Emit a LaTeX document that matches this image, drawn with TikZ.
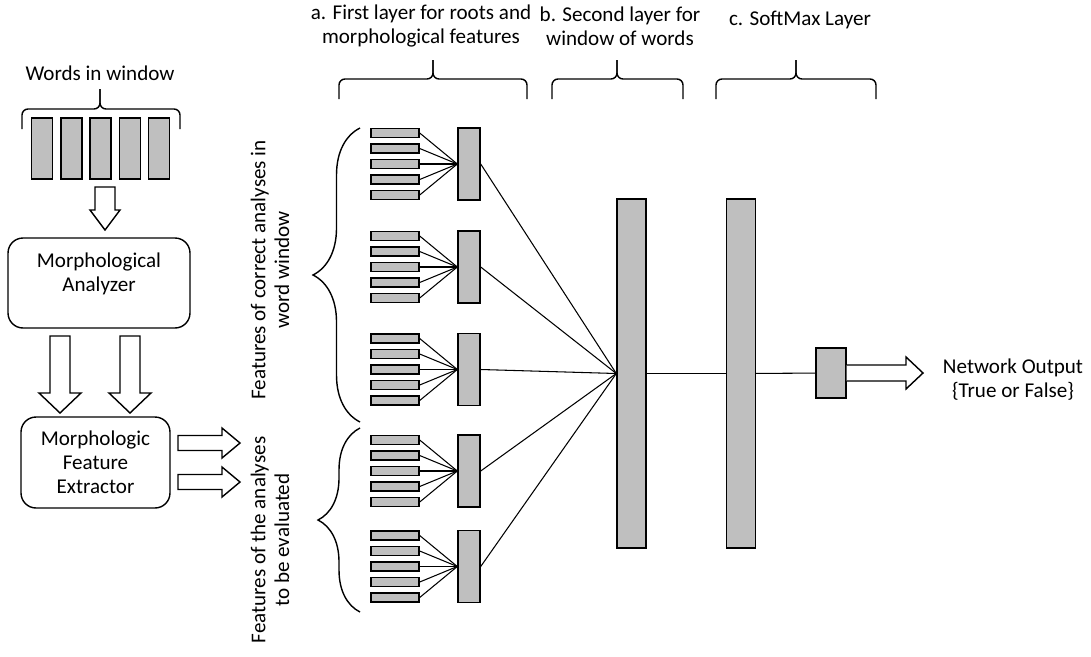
\documentclass[tikz,border=0pt]{standalone}
\usepackage{fontspec}
\setmainfont{Carlito}
\usetikzlibrary{positioning,decorations.pathreplacing}
\tikzset{>=latex}

\begin{document}
\begin{tikzpicture}[x=0.02cm, y=-0.02cm, font=\fontsize{12}{13.6}\selectfont,
		unit/.style={draw, fill=black!25, line width=0.8pt, inner sep=0pt},
		bar/.style={unit, minimum width=0.96cm, minimum height=0.18cm},
		neuron/.style={unit, minimum width=0.44cm, minimum height=1.44cm},
		layer/.style={unit, minimum width=0.58cm, minimum height=6.98cm},
		word/.style={unit, minimum width=0.42cm, minimum height=1.22cm},
		proc/.style={draw, line width=0.8pt, rounded corners=0.3cm, align=center},
		fat/.style={draw, line width=0.8pt, fill=white, line join=miter},
		curly/.style={draw, line width=0.8pt, rounded corners=0.12cm},
		vbrace/.style={draw, line width=0.8pt, decorate, decoration={brace, amplitude=#1}},
		wire/.style={line width=0.6pt}]
		\useasboundingbox (0,0) rectangle (1091,656);
		
		% input side
		\node (wordstitle) at (100,73) {Words in window};
		\foreach \i in {0,...,4}
			\node[word] (w\i) at (42+29.3*\i,148.5) {};
		\draw[curly] (22,129) |- (100,109) -- (100,89);
		\draw[curly] (100,89) -- (100,109) -| (180,129);
		\draw[fat] (95,187) -- (115,187) -- (115,210) -- (120,210) -- (105,230) -- (90,210) -- (95,210) -- cycle;
		
		\node[proc, minimum width=3.64cm, minimum height=1.8cm] (analyzer) at (99,283) {};
		\node[align=center] at (99,274) {Morphological\\Analyzer};
		\draw[fat] (50,336) -- (70,336) -- (70,393) -- (81,393) -- (60,413) -- (39,393) -- (50,393) -- cycle;
		\draw[fat] (120,336) -- (140,336) -- (140,393) -- (151,393) -- (130,413) -- (109,393) -- (120,393) -- cycle;
		
		\node[proc, minimum width=2.98cm, minimum height=1.82cm] (extractor) at (95.5,462.5) {Morphologic\\Feature\\Extractor};
		\draw[fat] (178,435.5) -- (222,435.5) -- (222,428) -- (240,443) -- (222,458) -- (222,450.5) -- (178,450.5) -- cycle;
		\draw[fat] (178,474.5) -- (222,474.5) -- (222,467) -- (240,482) -- (222,497) -- (222,489.5) -- (178,489.5) -- cycle;
		
		\node[rotate=90, align=center] (corrtxt) at (270,270) {Features of correct analyses in\\word window};
		\node[rotate=90, align=center] (evaltxt) at (270,540) {Features of the analyses\\to be evaluated};
		\draw[vbrace=0.94cm] (360,422) -- (360,128);
		\draw[vbrace=0.84cm] (360,612) -- (360,428);
		
		% layer labels
		\node[align=center] (alabel) at (421,26) {a. First layer for roots and\\morphological features};
		\node[align=center] (blabel) at (620,26) {b. Second layer for\\window of words};
		\node (clabel) at (800,20) {c. SoftMax Layer};
		\draw[curly] (339,99) |- (433,79) -- (433,60);
		\draw[curly] (433,60) -- (433,79) -| (527,99);
		\draw[curly] (552,99) |- (617,79) -- (617,60);
		\draw[curly] (617,60) -- (617,79) -| (683,99);
		\draw[curly] (716,99) |- (796,79) -- (796,60);
		\draw[curly] (796,60) -- (796,79) -| (876,99);
		
		% first layer
		\foreach \g/\c in {1/164,2/267,3/369.5,4/471,5/566.5} {
			\node[neuron] (n\g) at (469,\c) {};
			\foreach \i/\d in {1/-31,2/-15.5,3/0,4/15.5,5/31} {
				\node[bar] (b\g\i) at (395,\c+\d) {};
				\draw[wire] (b\g\i.east) -- (n\g.west);
			}
		}
		
		% second layer, softmax, output
		\node[layer] (second) at (631.5,373.5) {};
		\node[layer] (softmax) at (741,373.5) {};
		\node[unit, minimum width=0.6cm, minimum height=1cm] (out) at (831,373) {};
		\foreach \g in {1,...,5}
			\draw[wire] (n\g.east) -- (second.west);
		\draw[wire] (second) -- (softmax);
		\draw[wire] (softmax) -- (out);
		\draw[fat] (out.east |- 0,365) -- (906,365) -- (906,357) -- (923,373) -- (906,389) -- (906,381) -- (out.east |- 0,381);
		\node[align=center] (result) at (1013,380) {Network Output\\\{True or False\}};
	\end{tikzpicture}
\end{document}
